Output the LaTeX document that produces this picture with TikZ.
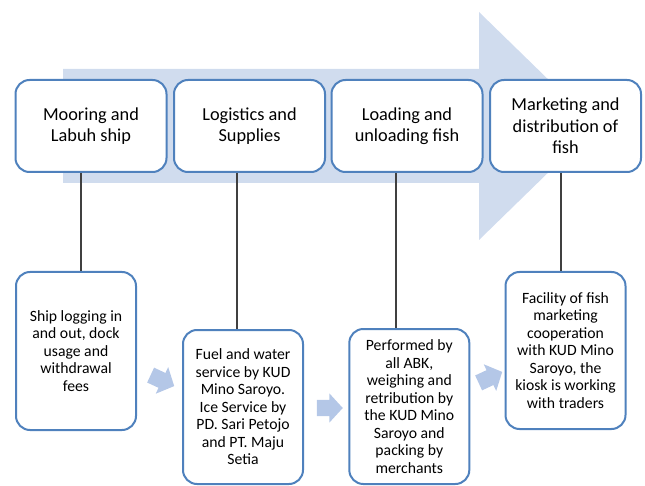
\documentclass[tikz,border=0pt]{standalone}
\usepackage{fontspec}
\setmainfont{Carlito}
\usepackage{tikz}
\usetikzlibrary{calc,positioning,shapes.arrows}
\definecolor{boxline}{RGB}{79,129,189}
\definecolor{bigarrow}{RGB}{208,220,238}
\definecolor{smallarrow}{RGB}{180,199,231}
\definecolor{linkline}{RGB}{64,64,64}

\begin{document}
\begin{tikzpicture}[x=1pt, y=-1pt,
    stage/.style={draw=boxline, line width=2pt, fill=white, rounded corners=14pt,
        minimum width=151pt, minimum height=92pt, inner sep=0pt, align=center,
        font=\fontsize{18.3}{21.5}\selectfont},
    detail/.style={draw=boxline, line width=2pt, fill=white, rounded corners=14pt,
        minimum width=120pt, inner sep=0pt, align=center,
        font=\fontsize{15.7}{17.5}\selectfont},
    step arrow/.style={single arrow, fill=smallarrow, draw=none, inner xsep=0pt,
        inner ysep=8pt, minimum width=29pt, minimum height=26pt,
        single arrow head extend=6.5pt, single arrow tip angle=95},
    link/.style={draw=linkline, line width=1.3pt}]

    \useasboundingbox (0,0) rectangle (645,486);

    \fill[bigarrow] (63,69) -- (479,69) -- (479,12) -- (596,126) -- (479,240) -- (479,183) -- (63,183) -- cycle;

    \node[stage] (t1) at (91,126) {Mooring and\\Labuh ship};
    \node[stage] (t2) at (249.5,126) {Logistics and\\Supplies};
    \node[stage] (t3) at (407,126) {Loading and\\unloading fish};
    \node[stage] (t4) at (565.5,126) {Marketing and\\distribution of\\fish};

    \node[detail, minimum height=158pt] (s1) at (76,351)
        {Ship logging in\\and out, dock\\usage and\\withdrawal\\fees};
    \node[detail, minimum height=154pt] (s2) at (243,407)
        {Fuel and water\\service by KUD\\Mino Saroyo.\\Ice Service by\\PD. Sari Petojo\\and PT. Maju\\Setia};
    \node[detail, minimum height=155pt] (s3) at (409.3,406.5)
        {Performed by\\all ABK,\\weighing and\\retribution by\\the KUD Mino\\Saroyo and\\packing by\\merchants};
    \node[detail, minimum height=157pt] (s4) at (565.5,350.5)
        {Facility of fish\\marketing\\cooperation\\with KUD Mino\\Saroyo, the\\kiosk is working\\with traders};

    \coordinate (l1) at ([xshift=-10pt]t1.south);
    \coordinate (l2) at ([xshift=-12.5pt]t2.south);
    \coordinate (l3) at ([xshift=-11pt]t3.south);
    \coordinate (l4) at ([xshift=-4.5pt]t4.south);
    \draw[link] (l1) -- (s1.north -| l1);
    \draw[link] (l2) -- (s2.north -| l2);
    \draw[link] (l3) -- (s3.north -| l3);
    \draw[link] (l4) -- (s4.north -| l4);

    \node[step arrow, rotate=-25] (a1) at (159,379) {};
    \node[step arrow] (a2) at (326,408) {};
    \node[step arrow, rotate=25] (a3) at (487,379) {};

\end{tikzpicture}
\end{document}
